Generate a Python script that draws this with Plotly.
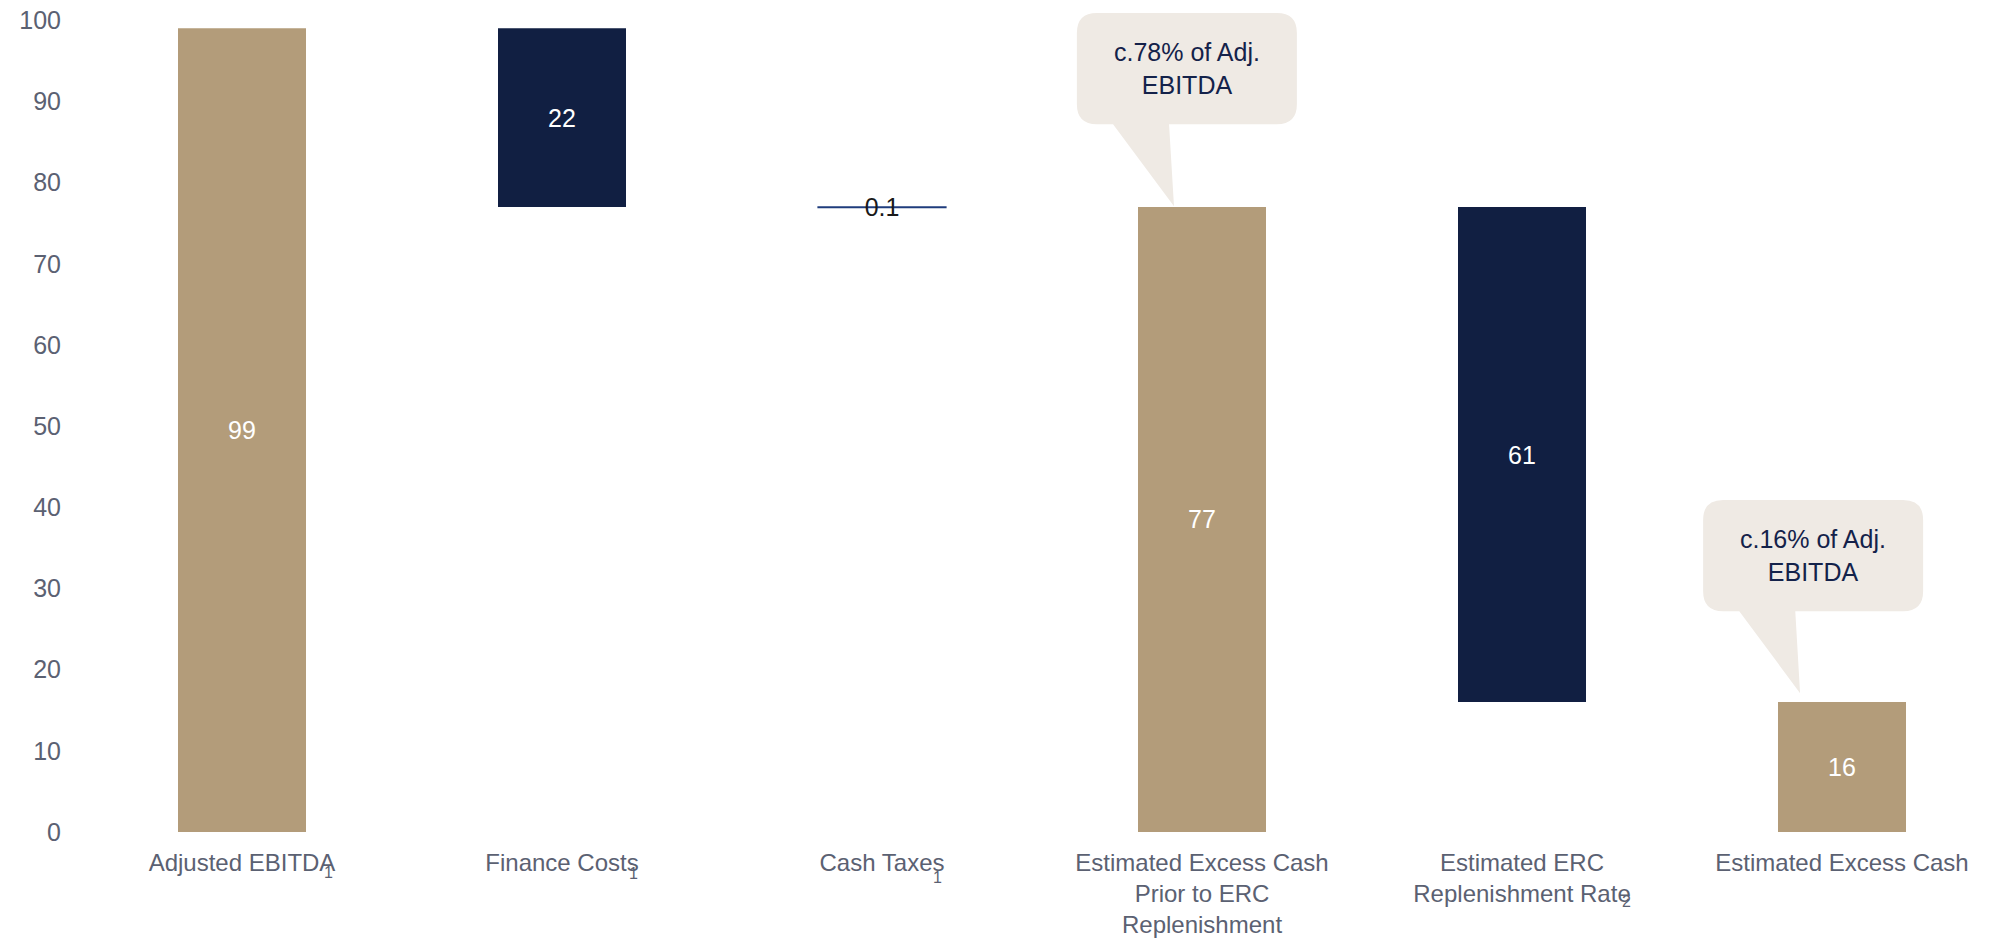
import plotly.graph_objects as go

# --- data -------------------------------------------------------------
categories = [
    "Adjusted EBITDA",
    "Finance Costs",
    "Cash Taxes",
    "Estimated Excess Cash<br>Prior to ERC<br>Replenishment",
    "Estimated ERC<br>Replenishment Rate",
    "Estimated Excess Cash",
]
values = [99, -22, -0.1, 77, -61, 16]
kinds = ["total", "delta", "delta", "total", "delta", "total"]

footnotes = ["1", "1", "1", "", "2", ""]

callout_texts = ["c.78% of Adj.<br>EBITDA", "c.16% of Adj.<br>EBITDA"]
callout_targets = [3, 5]

y_ticks = list(range(0, 101, 10))

# --- styling ----------------------------------------------------------
TAN = "#B39C7A"
NAVY = "#111F42"
THIN_LINE = "#1F3C7C"
BUBBLE = "#EFEAE4"
BUBBLE_TEXT = "#14224A"
AXIS_TEXT = "#5B6172"
FONT = "Arial, Liberation Sans, sans-serif"

# floating bars: compute base / height for each step of the bridge
bases, heights, colors, texts, text_colors, line_colors, line_widths = [], [], [], [], [], [], []
level = 0.0
for v, k in zip(values, kinds):
    if k == "total":
        level = v
        bases.append(0)
        heights.append(v)
        colors.append(TAN)
        line_colors.append(TAN)
        line_widths.append(0)
        text_colors.append("white")
    else:
        new_level = level + v
        bases.append(min(level, new_level))
        heights.append(abs(v))
        colors.append(NAVY)
        thin = abs(v) < 1
        line_colors.append(THIN_LINE if thin else NAVY)
        line_widths.append(1.2 if thin else 0)
        text_colors.append("#1A1A1A" if thin else "white")
        level = new_level
    texts.append(f"{abs(v):g}")

fig = go.Figure(
    go.Bar(
        x=categories,
        y=heights,
        base=bases,
        width=0.4,
        marker=dict(color=colors, line=dict(color=line_colors, width=line_widths)),
        text=texts,
        textposition="inside",
        insidetextanchor="middle",
        constraintext="none",
        textfont=dict(family=FONT, size=25, color=text_colors),
        hoverinfo="skip",
        showlegend=False,
    )
)

# --- speech-bubble callouts anchored on the top of a bar --------------
BOX_W = 0.6875      # x units (category widths)
BOX_H = 13.7        # y units
RX, RY = 0.0625, 2.46
TAIL_A, TAIL_B = 0.113, 0.288
callout_layout = [
    dict(dx=-0.391, dy=10.2, tip_dx=-0.0875, tip_dy=0.1),
    dict(dx=-0.434, dy=11.2, tip_dx=-0.131, tip_dy=1.1),
]

def bubble_path(x0, y0, tip_x, tip_y):
    x1, y1 = x0 + BOX_W, y0 + BOX_H
    return (
        f"M {x0 + RX},{y1} L {x1 - RX},{y1} Q {x1},{y1} {x1},{y1 - RY} "
        f"L {x1},{y0 + RY} Q {x1},{y0} {x1 - RX},{y0} "
        f"L {x0 + TAIL_B},{y0} L {tip_x},{tip_y} L {x0 + TAIL_A},{y0} "
        f"L {x0 + RX},{y0} Q {x0},{y0} {x0},{y0 + RY} "
        f"L {x0},{y1 - RY} Q {x0},{y1} {x0 + RX},{y1} Z"
    )

for text, idx, lay in zip(callout_texts, callout_targets, callout_layout):
    top = bases[idx] + heights[idx]
    x0 = idx + lay["dx"]
    y0 = top + lay["dy"]
    fig.add_shape(
        type="path",
        path=bubble_path(x0, y0, idx + lay["tip_dx"], top + lay["tip_dy"]),
        xref="x", yref="y",
        fillcolor=BUBBLE,
        line=dict(width=0),
        layer="above",
    )
    fig.add_annotation(
        x=x0 + BOX_W / 2, y=y0 + BOX_H / 2,
        xref="x", yref="y",
        text=text, showarrow=False,
        font=dict(family=FONT, size=25, color=BUBBLE_TEXT),
        align="center",
    )

# footnote markers next to the category labels
footnote_offsets = [(86, -40), (71, -41), (55, -45), (0, 0), (104, -69), (0, 0)]
for i, (mark, (xs, ys)) in enumerate(zip(footnotes, footnote_offsets)):
    if not mark:
        continue
    fig.add_annotation(
        x=i, y=0, xref="x", yref="paper",
        text=mark, showarrow=False,
        xshift=xs, yshift=ys,
        yanchor="middle",
        font=dict(family=FONT, size=16, color=AXIS_TEXT),
    )

fig.update_layout(
    width=2004,
    height=939,
    margin=dict(l=82, r=2, t=4, b=107),
    paper_bgcolor="white",
    plot_bgcolor="white",
    bargap=0.6,
    font=dict(family=FONT, color=AXIS_TEXT),
    hovermode=False,
)
fig.update_xaxes(
    type="category",
    range=[-0.5, len(categories) - 0.5],
    showgrid=False, zeroline=False, showline=False,
    tickfont=dict(family=FONT, size=24, color=AXIS_TEXT),
    ticks="",
    tickangle=0,
    ticklabelstandoff=14,
    automargin=False,
)
fig.update_yaxes(
    range=[0, 102],
    tickvals=y_ticks,
    showgrid=False, zeroline=False, showline=False,
    tickfont=dict(family=FONT, size=25, color=AXIS_TEXT),
    ticks="",
    ticklabelstandoff=20,
    automargin=False,
)

fig.write_html("out.html")
